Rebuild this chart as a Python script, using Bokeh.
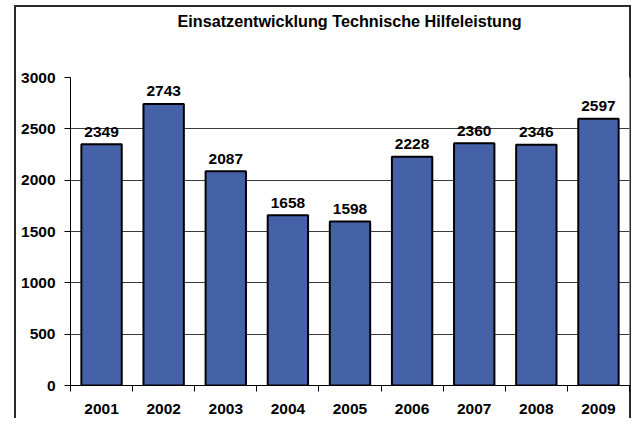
from bokeh.plotting import figure
from bokeh.models import FixedTicker, ColumnDataSource, Range1d, Title
from bokeh.core.properties import value
from bokeh.embed import file_html
from bokeh.resources import INLINE

title_text = "Einsatzentwicklung Technische Hilfeleistung"
years = ["2001", "2002", "2003", "2004", "2005", "2006", "2007", "2008", "2009"]
counts = [2349, 2743, 2087, 1658, 1598, 2228, 2360, 2346, 2597]
y_ticks = [0, 500, 1000, 1500, 2000, 2500, 3000]

FONT = "Liberation Sans"
BAR_COLOR = "#4561A8"
EDGE = "#2a2a2a"

xpos = [i + 0.5 for i in range(len(years))]
src = ColumnDataSource(dict(x=xpos, top=counts, label=[str(c) for c in counts]))

p = figure(width=631, height=418, output_backend="svg", toolbar_location=None,
           title=None,
           x_range=Range1d(0, len(years)), y_range=Range1d(0, y_ticks[-1]),
           min_border_left=70, min_border_right=2, min_border_top=77,
           min_border_bottom=33)

# outer chart border drawn as CSS background lines behind a transparent canvas
p.border_fill_color = None
p.styles = {"background": (
    f"linear-gradient({EDGE},{EDGE}) 14px 5px / 2px 100% no-repeat, "
    f"linear-gradient({EDGE},{EDGE}) 14px 5px / 617px 2px no-repeat, "
    f"linear-gradient({EDGE},{EDGE}) 629px 5px / 2px 100% no-repeat")}

# spacer (nearest to the frame) and the real title above it
spacer = Title(text=" ", text_font_size="1px", standoff=44)
p.add_layout(spacer, "above")
main_title = Title(text=title_text, align="left", offset=107, standoff=2,
                   vertical_align="bottom", text_font=FONT,
                   text_font_style="bold", text_font_size="16.2px",
                   text_color="black")
p.add_layout(main_title, "above")

p.outline_line_color = None
p.background_fill_color = "white"

p.vbar(x="x", top="top", bottom=0, width=0.65, source=src,
       fill_color=BAR_COLOR, line_color="black", line_width=2)

p.text(x="x", y="top", text="label", source=src, text_align="center",
       text_baseline="alphabetic", y_offset=-12.5,
       text_font=value(FONT), text_font_style="bold", text_font_size="15.5px",
       text_color="black")

# y axis
p.yaxis.ticker = FixedTicker(ticks=y_ticks)
p.ygrid.ticker = FixedTicker(ticks=y_ticks)
p.ygrid.grid_line_color = "#3a3a3a"
p.ygrid.grid_line_width = 1
p.xgrid.grid_line_color = None
p.yaxis.axis_line_color = "black"
p.yaxis.major_tick_out = 6
p.yaxis.major_tick_in = 0
p.yaxis.minor_tick_line_color = None
p.yaxis.major_label_standoff = 9

# x axis: labels at bar centers, ticks at category boundaries
p.xaxis.ticker = FixedTicker(ticks=xpos, minor_ticks=list(range(len(years) + 1)))
p.xaxis.major_label_overrides = {x: y for x, y in zip(xpos, years)}
p.xaxis.major_tick_out = 0
p.xaxis.major_tick_in = 0
p.xaxis.minor_tick_out = 6
p.xaxis.minor_tick_in = 0
p.xaxis.minor_tick_line_color = "black"
p.xaxis.axis_line_color = "black"
p.xaxis.major_label_standoff = 12

for ax in (p.xaxis, p.yaxis):
    ax.major_label_text_font = FONT
    ax.major_label_text_font_style = "bold"
    ax.major_label_text_font_size = "15.5px"
    ax.major_label_text_color = "black"

open("out.html", "w").write(file_html(p, INLINE))
